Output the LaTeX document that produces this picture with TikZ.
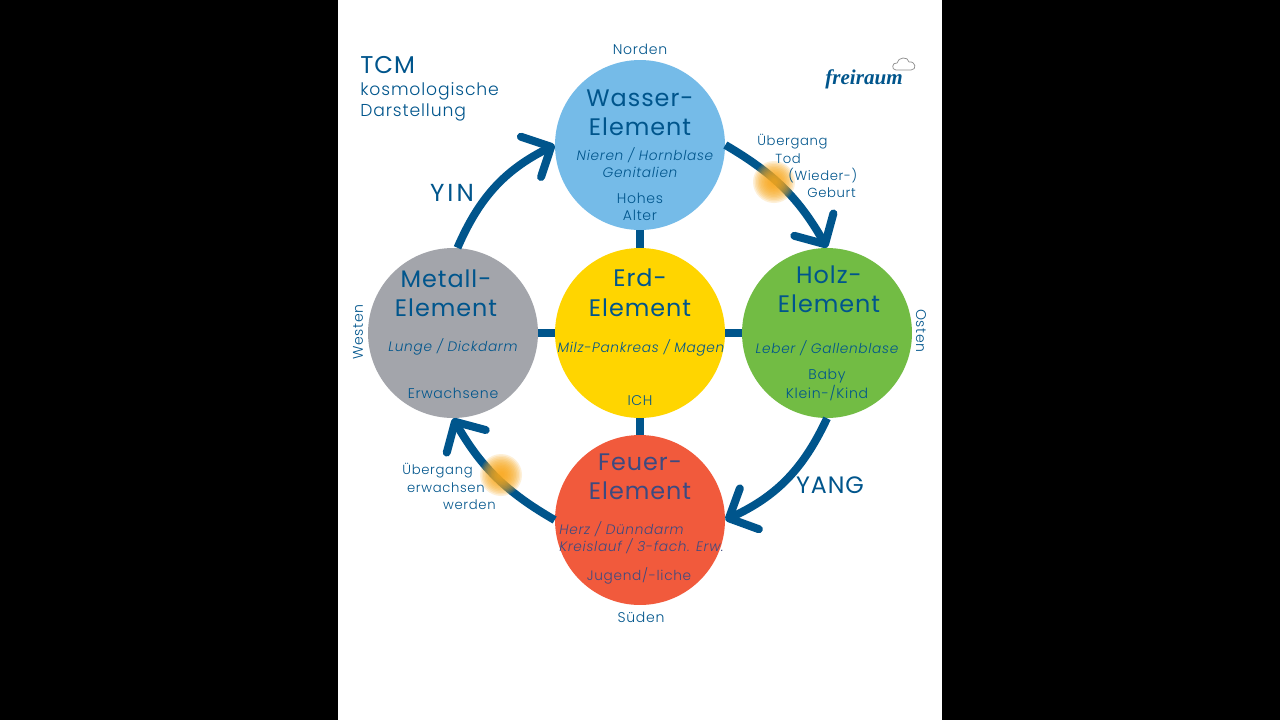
\documentclass[tikz,border=0pt]{standalone}
\usepackage{fontspec}
\setmainfont{Poppins}[UprightFont=* Light,ItalicFont=* Light Italic,BoldFont=*,LetterSpace=5]
\newfontfamily\titlefont{Poppins}[LetterSpace=4]
\newfontfamily\logofont{Liberation Serif}
\usetikzlibrary{arrows.meta}
\definecolor{tcmblue}{HTML}{00558C}
\definecolor{wassercol}{HTML}{75BBE8}
\definecolor{erdcol}{HTML}{FFD500}
\definecolor{holzcol}{HTML}{72BC44}
\definecolor{metallcol}{HTML}{A3A5AB}
\definecolor{feuercol}{HTML}{F15A3C}
\definecolor{feuertext}{HTML}{3D4A80}
\definecolor{glowcol}{HTML}{F9A81B}
\tikzset{
  element/.style={circle,minimum size=3.4cm,inner sep=0pt},
  title/.style={text=tcmblue,font=\titlefont\fontsize{13.6pt}{16pt}\selectfont},
  organ/.style={text=tcmblue,font=\fontsize{7.8pt}{9pt}\selectfont\itshape},
  small/.style={text=tcmblue,font=\fontsize{8pt}{9pt}\selectfont},
  pass/.style={text=tcmblue,font=\fontsize{7.5pt}{9pt}\selectfont,inner sep=0pt},
  sub/.style={text=tcmblue,font=\fontsize{9.8pt}{11pt}\selectfont,anchor=west,inner sep=0pt},
  big/.style={text=tcmblue,font=\titlefont\fontsize{13.5pt}{15pt}\selectfont},
  link/.style={draw=tcmblue,line width=0.16cm},
  cycle/.style={link,-{Straight Barb[length=4.5mm,width=9mm,round]}},
  glow/.style={fill=glowcol,opacity=0.17}
}
\begin{document}
\begin{tikzpicture}[x=0.02cm,y=-0.02cm]
\useasboundingbox (0,0) rectangle (1280,720);
\fill[black] (0,0) rectangle (1280,720);
\fill[white] (338,0) rectangle (942,720);

\node[element,fill=wassercol] (wasser) at (640,145) {};
\node[element,fill=erdcol] (erd) at (640,333) {};
\node[element,fill=holzcol] (holz) at (827,333) {};
\node[element,fill=metallcol] (metall) at (453,333) {};
\node[element,fill=feuercol] (feuer) at (640,520) {};

\draw[link] (wasser) -- (erd);
\draw[link] (erd) -- (feuer);
\draw[link] (metall) -- (erd);
\draw[link] (erd) -- (holz);

\draw[cycle] (metall.87) to[bend left=20] (wasser.west);
\draw[cycle] (wasser.east) to[bend left=15] (holz.north);
\draw[cycle] (holz.south) to[bend left=20] (feuer.east);
\draw[cycle] (feuer.west) to[bend left=15] (metall.south);

\foreach \r in {3,4.5,...,22} {
  \fill[glow] (774,182) circle (\r);
  \fill[glow] (501,475) circle (\r);
}

\node[big,font=\titlefont\fontsize{13.8pt}{15pt}\selectfont,anchor=west,inner sep=0pt] (tcm) at (360,65) {TCM};
\node[sub] (kosmo) at (360,91) {kosmologische};
\node[sub] (darst) at (360,112) {Darstellung};

\node[small] (norden) at (640,49) {Norden};
\node[small] (sueden) at (641,617) {Süden};
\node[small,rotate=-90] (osten) at (921,331) {Osten};
\node[small,rotate=90] (westen) at (358,332) {Westen};

\node[title] (wa) at (640,98) {Wasser-};
\node[title] (wb) at (640,127) {Element};
\node[organ] (wc) at (645,155) {Nieren / Hornblase};
\node[organ] (wd) at (640,172) {Genitalien};
\node[small] (we) at (640,198) {Hohes};
\node[small] (wf) at (640,215) {Alter};

\node[title] (ea) at (640,278) {Erd-};
\node[title] (eb) at (640,308) {Element};
\node[organ] (ec) at (641,348) {Milz-Pankreas / Magen};
\node[small] (ed) at (640,401) {ICH};

\node[title] (ha) at (829,275) {Holz-};
\node[title] (hb) at (829,304) {Element};
\node[organ] (hc) at (827,348) {Leber / Gallenblase};
\node[small] (hd) at (827,376) {Baby};
\node[small] (he) at (827,393) {Klein-/Kind};

\node[title] (ma) at (446,279) {Metall-};
\node[title] (mb) at (446,308) {Element};
\node[organ] (mc) at (453,347) {Lunge / Dickdarm};
\node[small] (md) at (453,393) {Erwachsene};

\node[title,text=feuertext] (fa) at (640,462) {Feuer-};
\node[title,text=feuertext] (fb) at (640,491) {Element};
\node[organ,text=feuertext,anchor=west,inner sep=0pt] (fc) at (559,529) {Herz / Dünndarm};
\node[organ,text=feuertext,anchor=west,inner sep=0pt] (fd) at (559,546) {Kreislauf / 3-fach. Erw.};
\node[small,text=feuertext,font=\fontsize{7.8pt}{9pt}\selectfont] (fe) at (639,576) {Jugend/-liche};

\node[big,font=\titlefont\fontsize{14pt}{15pt}\selectfont\addfontfeature{LetterSpace=12}] (yin) at (452,193) {YIN};
\node[big] (yang) at (830,485) {YANG};

\node[pass,anchor=west] (ta) at (757,142) {Übergang};
\node[pass,anchor=west] (tb) at (775,159) {Tod};
\node[pass,anchor=west] (tc) at (788,176) {(Wieder-)};
\node[pass,anchor=west] (td) at (807,193) {Geburt};

\node[pass,anchor=east] (ua) at (473,471) {Übergang};
\node[pass,anchor=east] (ub) at (485,488) {erwachsen};
\node[pass,anchor=east] (uc) at (496,505) {werden};

\node[text=tcmblue,font=\logofont\fontsize{12pt}{14pt}\selectfont\bfseries\itshape] (logo) at (864,79) {freiraum};
\draw[black!45,line width=0.4pt] (896,70) .. controls (891,70) and (892,62) .. (897,63)
  .. controls (898,57) and (908,56) .. (909,62) .. controls (916,61) and (917,70) .. (911,70) -- cycle;
\end{tikzpicture}
\end{document}
